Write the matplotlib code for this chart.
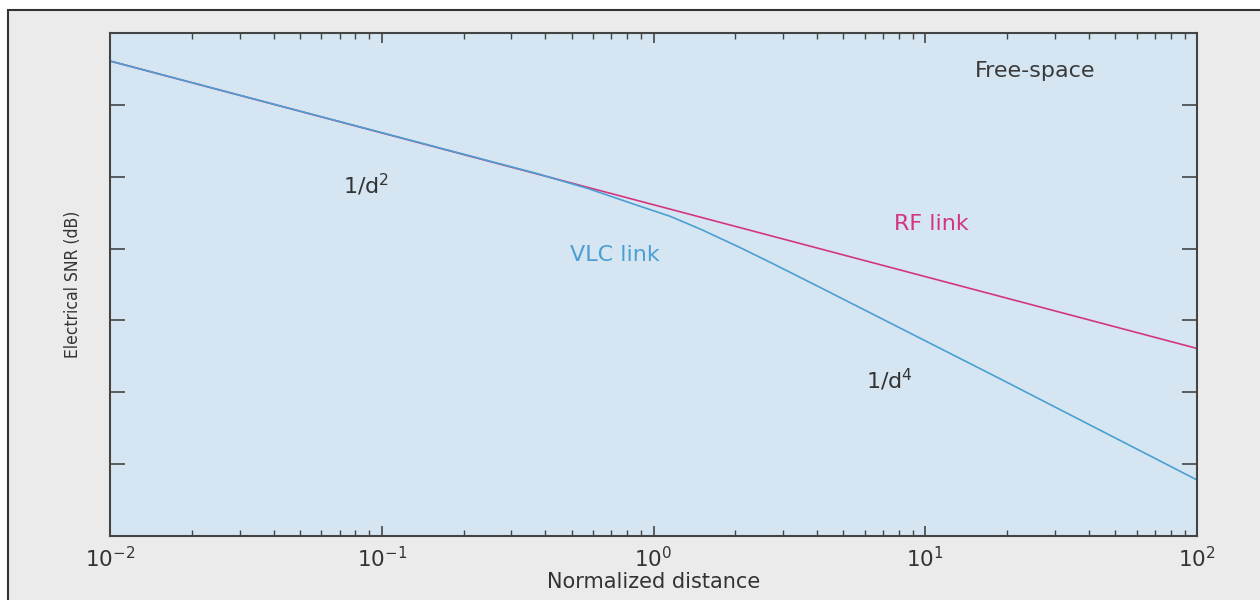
import numpy as np
import matplotlib
matplotlib.use("Agg")
import matplotlib.pyplot as plt
from matplotlib.patches import Rectangle
from matplotlib.ticker import LogLocator, FixedLocator, NullFormatter

plt.rcParams['font.family'] = ['DejaVu Sans']
plt.rcParams['mathtext.fontset'] = 'dejavusans'

# data
rf_d = [1e-2, 1e2]
rf_snr = [132.2, 52.2]

vlc_d = [0.01, 0.38, 0.58, 0.89, 1.15, 1.5, 2.08, 2.75, 4.1, 18.8, 100.0]
vlc_snr = [132.2, 100.7, 96.6, 91.8, 89.0, 85.3, 80.3, 75.8, 69.2, 43.8, 15.6]

ytick_vals = [20, 40, 60, 80, 100, 120]
xtick_vals = [1e-2, 1e-1, 1e0, 1e1, 1e2]
xtick_labels = [r'$10^{-2}$', r'$10^{-1}$', r'$10^{0}$', r'$10^{1}$', r'$10^{2}$']

rf_col = '#d4367e'
vlc_col = '#4a9fd3'
txt_col = '#333333'
spine_col = '#444444'

fig = plt.figure(figsize=(12.6, 6), dpi=100)
fig.patch.set_facecolor('white')
# outer grey frame, clipped at right/bottom like the scan
fig.patches.append(Rectangle((8/1260, -0.05), 1.1, 0.05 + 590/600,
                             transform=fig.transFigure, facecolor='#ebebeb',
                             edgecolor='#333333', linewidth=1.5, zorder=-5))

ax = fig.add_axes([110/1260, 64/600, 1087/1260, 503/600])
ax.set_facecolor('#d5e6f2')

ax.plot(rf_d, rf_snr, color=rf_col, lw=1.2)
ax.plot(vlc_d, vlc_snr, color=vlc_col, lw=1.2)

ax.set_xscale('log')
ax.set_xlim(1e-2, 1e2)
ax.set_ylim(0, 140)

ax.xaxis.set_major_locator(FixedLocator(xtick_vals))
ax.set_xticklabels(xtick_labels)
ax.xaxis.set_minor_locator(LogLocator(base=10, subs=np.arange(2, 10)))
ax.xaxis.set_minor_formatter(NullFormatter())
ax.yaxis.set_major_locator(FixedLocator(ytick_vals))
ax.set_yticklabels([])

ax.tick_params(axis='x', which='major', direction='in', length=7, width=1.2,
               top=True, colors=spine_col, labelcolor=txt_col, labelsize=15.5, pad=7)
ax.tick_params(axis='x', which='minor', direction='in', length=4, width=1.0,
               top=True, colors=spine_col)
ax.tick_params(axis='y', which='major', direction='in', length=11, width=1.2,
               right=True, colors=spine_col)

for s in ax.spines.values():
    s.set_color(spine_col)
    s.set_linewidth(1.5)

ax.set_xlabel('Normalized distance', fontsize=15, color=txt_col, labelpad=1)
ax.set_ylabel('Electrical SNR (dB)', fontsize=12.5, color=txt_col, labelpad=17,
              fontstretch='condensed')

ax.text(25.4, 129.4, 'Free-space', fontsize=16, color='#3a3a3a', ha='center', va='center')
ax.text(0.0875, 97.6, r'1/d$^{2}$', fontsize=16, color=txt_col, ha='center', va='center')
ax.text(10.5, 86.7, 'RF link', fontsize=16, color=rf_col, ha='center', va='center')
ax.text(0.72, 78.1, 'VLC link', fontsize=16, color=vlc_col, ha='center', va='center')
ax.text(7.4, 43.5, r'1/d$^{4}$', fontsize=16, color=txt_col, ha='center', va='center')

fig.savefig('out.png', dpi=100)
